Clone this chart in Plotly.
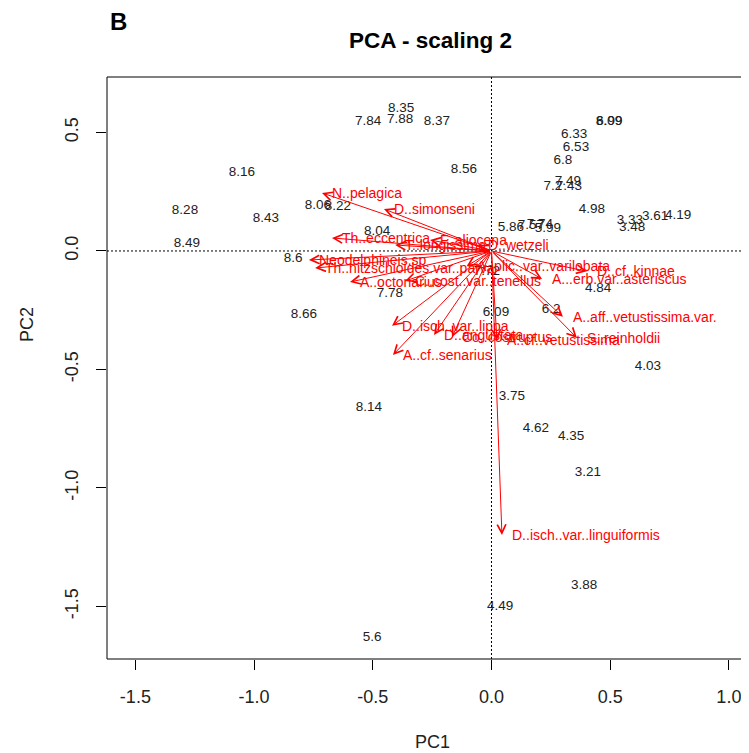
import plotly.graph_objects as go

# Site scores (labels = sample values)
site_labels = ["8.35", "7.84", "7.88", "8.37", "8.09", "6.99", "6.33", "6.53", "6.8",
               "7.49", "7.2", "7.43", "4.98", "3.33", "3.48", "3.61", "4.19", "5.86",
               "7.57", "7.74", "5.99", "8.56", "8.16", "8.28", "8.43", "8.06", "8.22",
               "8.04", "8.49", "8.6", "7.78", "8.66", "6.09", "6.2", "4.84", "4.03",
               "3.75", "8.14", "4.62", "4.35", "3.21", "3.88", "4.49", "5.6", "7.72"]
site_pc1 = [-0.381, -0.520, -0.385, -0.230, 0.495, 0.497, 0.348, 0.356, 0.301,
            0.322, 0.259, 0.326, 0.423, 0.583, 0.592, 0.689, 0.786, 0.082,
            0.166, 0.204, 0.238, -0.116, -1.051, -1.291, -0.950, -0.731, -0.647,
            -0.482, -1.283, -0.836, -0.428, -0.790, 0.019, 0.251, 0.449, 0.659,
            0.086, -0.516, 0.187, 0.335, 0.406, 0.390, 0.036, -0.503, -0.019]
site_pc2 = [0.599, 0.544, 0.553, 0.544, 0.544, 0.546, 0.489, 0.435, 0.380,
            0.291, 0.270, 0.270, 0.173, 0.127, 0.097, 0.143, 0.148, 0.097,
            0.105, 0.110, 0.093, 0.342, 0.329, 0.169, 0.135, 0.190, 0.186,
            0.080, 0.030, -0.034, -0.181, -0.270, -0.262, -0.249, -0.160, -0.489,
            -0.616, -0.662, -0.751, -0.785, -0.937, -1.414, -1.502, -1.633, -0.089]

# Species scores (arrows)
species = ["N..pelagica", "D..simonseni", "Th..eccentrica", "F..aliocena", "T..longissima",
           "D..wetzeli", "Neodelphineis.sp", "Th..nitzschioides.var..parva", "A..octonarius",
           "C..cost..var..tenellus", "A..plic..var..varilobata", "D..cf..kinnae",
           "A...erb.var..asteriscus", "A..aff..vetustissima.var.", "S..reinholdii",
           "D..isch..var..lippa", "D..angustata", "Co..costruptus", "A..cf..vetustissima",
           "A..cf..senarius", "D..isch..var..linguiformis"]
sp_pc1 = [-0.714, -0.453, -0.672, -0.259, -0.406,
          -0.057, -0.769, -0.743, -0.596,
          -0.364, -0.105, 0.402,
          0.213, 0.301, 0.360,
          -0.419, -0.242, -0.166, 0.023,
          -0.415, 0.044]
sp_pc2 = [0.245, 0.177, 0.055, 0.046, 0.025,
          0.025, -0.038, -0.072, -0.131,
          -0.127, -0.064, -0.086,
          -0.118, -0.278, -0.367,
          -0.316, -0.354, -0.363, -0.376,
          -0.439, -1.198]

x_ticks = [-1.5, -1.0, -0.5, 0.0, 0.5, 1.0]
y_ticks = [0.5, 0.0, -0.5, -1.0, -1.5]

RED = "#FF0000"
FONT = "Liberation Sans, Arial, sans-serif"

# plot box in screen pixels (page has an 8px body offset)
BOX_L, BOX_R, BOX_T, BOX_B = 107, 749, 77, 659
W_BOX, H_BOX = BOX_R - BOX_L, BOX_B - BOX_T


def px(xs):
    return (xs - BOX_L) / W_BOX


def py(ys):
    return (BOX_B - ys) / H_BOX


fig = go.Figure()

# dotted reference lines
fig.add_shape(type="line", xref="x", yref="paper", x0=0, x1=0, y0=0, y1=1,
              line=dict(color="black", width=1, dash="2px,2px"))
fig.add_shape(type="line", xref="paper", yref="y", x0=0, x1=1.05, y0=0, y1=0,
              line=dict(color="black", width=1, dash="2px,2px"))

# site labels
fig.add_trace(go.Scatter(x=site_pc1, y=site_pc2, mode="text", text=site_labels,
                         textposition="middle center",
                         textfont=dict(family=FONT, size=13.5, color="#222222"),
                         hoverinfo="skip", showlegend=False, cliponaxis=False))

# arrows
for sx, sy in zip(sp_pc1, sp_pc2):
    fig.add_annotation(x=sx, y=sy, ax=0, ay=0, xref="x", yref="y", axref="x", ayref="y",
                       text="", showarrow=True, arrowhead=5, arrowsize=1.7, arrowwidth=1,
                       arrowcolor=RED, standoff=0, startstandoff=0)

# species labels, placed to the right of the arrow tips
for name, sx, sy in zip(species, sp_pc1, sp_pc2):
    fig.add_annotation(x=sx, y=sy, xref="x", yref="y", text=name, showarrow=False,
                       xanchor="left", yanchor="middle", xshift=8,
                       font=dict(family=FONT, size=14, color=RED))

# frame (left, top, bottom; right side beyond picture)
fig.add_shape(type="rect", xref="paper", yref="paper", x0=0, x1=1.05, y0=0, y1=1,
              line=dict(color="black", width=1))

fig.update_xaxes(range=[-1.6196, 1.0847], tickvals=x_ticks,
                 ticktext=[f"{v:.1f}" for v in x_ticks],
                 ticks="outside", ticklen=10, tickcolor="black", tickwidth=1,
                 showgrid=False, zeroline=False, showline=False, ticklabelstandoff=11,
                 tickfont=dict(family=FONT, size=18, color="#222222"))
fig.update_yaxes(range=[-1.7215, 0.734], tickvals=y_ticks,
                 ticktext=[f"{v:.1f}" for v in y_ticks],
                 ticks="outside", ticklen=10, tickcolor="black", tickwidth=1,
                 showgrid=False, zeroline=False, showline=False, tickangle=-90,
                 ticklabelstandoff=11,
                 tickfont=dict(family=FONT, size=18, color="#222222"))

fig.add_annotation(text="<b>PCA - scaling 2</b>", xref="paper", yref="paper",
                   x=px(430), y=py(40), xanchor="center", yanchor="middle", showarrow=False,
                   font=dict(family=FONT, size=22.5, color="black"))
fig.add_annotation(text="<b>B</b>", xref="paper", yref="paper",
                   x=px(118), y=py(22), xanchor="center", yanchor="middle", showarrow=False,
                   font=dict(family=FONT, size=24, color="black"))
fig.add_annotation(text="PC1", xref="paper", yref="paper",
                   x=px(432), y=py(742), xanchor="center", yanchor="middle", showarrow=False,
                   font=dict(family=FONT, size=18, color="#222222"))
fig.add_annotation(text="PC2", xref="paper", yref="paper", textangle=-90,
                   x=px(27), y=py(325), xanchor="center", yanchor="middle", showarrow=False,
                   font=dict(family=FONT, size=18, color="#222222"))

fig.update_layout(width=749, height=753,
                  margin=dict(l=BOX_L - 8, r=8, t=BOX_T - 8, b=753 - (BOX_B - 8)),
                  plot_bgcolor="white", paper_bgcolor="white")

fig.write_html("out.html")
